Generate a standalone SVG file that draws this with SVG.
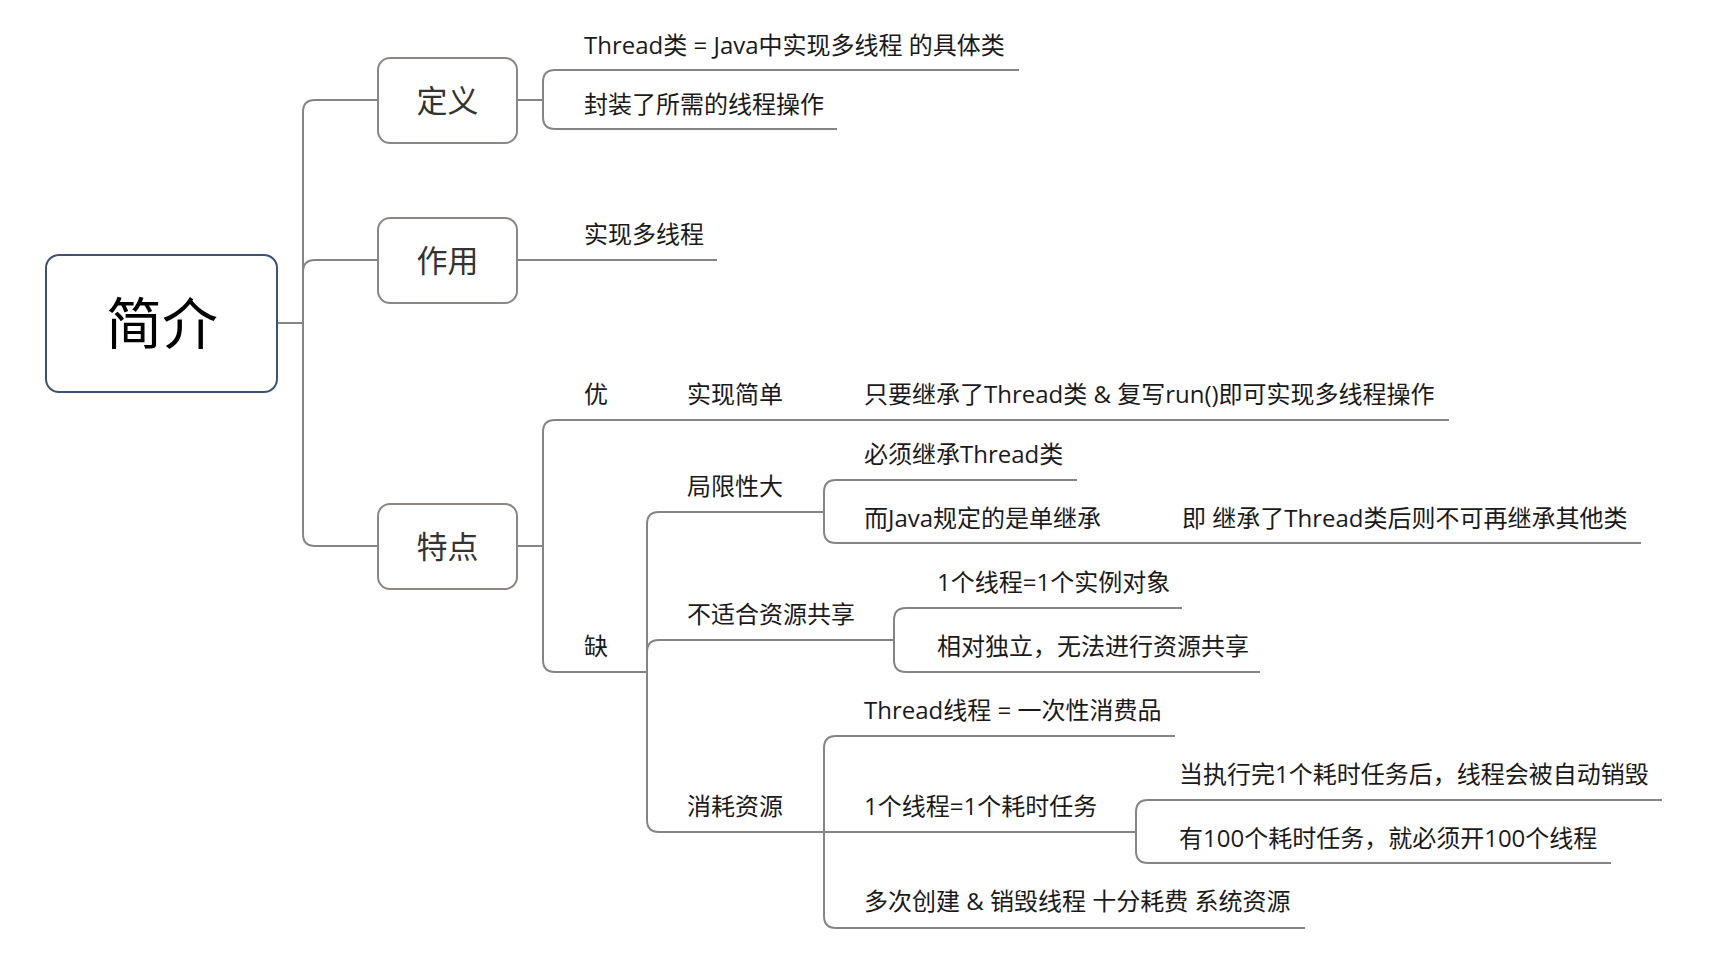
<svg xmlns="http://www.w3.org/2000/svg" width="1723" height="959" viewBox="0 0 1723 959">
<style>
.c{fill:none;stroke:#858585;stroke-width:2}
.box{fill:#fff;stroke:#8c8782;stroke-width:2}
.root{fill:#fff;stroke:#3f5078;stroke-width:2}
.nt{font-family:"Open Sans","Noto Sans CJK SC",sans-serif;font-size:31px;fill:#333;text-anchor:middle}
.rt{font-family:"Noto Sans CJK SC",sans-serif;font-size:56px;fill:#000;text-anchor:middle}
.t{font-family:"Open Sans","Noto Sans CJK SC",sans-serif;font-size:24px;fill:#1a1a1a}
</style>
<rect width="1723" height="959" fill="#fff"/>
<g id="connectors">
<path class="c" d="M277,323 H303"/>
<path class="c" d="M378,100 H315 Q303,100 303,112 V534 Q303,546 315,546 H378"/>
<path class="c" d="M303,272 Q303,260 315,260 H378"/>
<path class="c" d="M517,100 H543"/>
<path class="c" d="M1019,70 H555 Q543,70 543,82 V117 Q543,129 555,129 H837"/>
<path class="c" d="M517,260 H717"/>
<path class="c" d="M517,546 H543"/>
<path class="c" d="M1449,420 H555 Q543,420 543,432 V660 Q543,672 555,672 H647"/>
<path class="c" d="M824,512 H659 Q647,512 647,524 V820 Q647,832 659,832 H1136"/>
<path class="c" d="M647,652 Q647,640 659,640 H894"/>
<path class="c" d="M1077,480 H836 Q824,480 824,492 V531 Q824,543 836,543 H1641"/>
<path class="c" d="M1182,608 H906 Q894,608 894,620 V660 Q894,672 906,672 H1260"/>
<path class="c" d="M1175,736 H836 Q824,736 824,748 V916 Q824,928 836,928 H1305"/>
<path class="c" d="M1662,800 H1148 Q1136,800 1136,812 V851 Q1136,863 1148,863 H1611"/>
</g>
<g id="root">
<rect class="root" x="46" y="255" width="231" height="137" rx="13"/>
<text class="rt" x="162" y="344">简介</text>
</g>
<g id="n-dingyi">
<rect class="box" x="378" y="58" width="139" height="85" rx="12"/>
<text class="nt" x="447.5" y="112">定义</text>
</g>
<g id="n-zuoyong">
<rect class="box" x="378" y="218" width="139" height="85" rx="12"/>
<text class="nt" x="447.5" y="272">作用</text>
</g>
<g id="n-tedian">
<rect class="box" x="378" y="504" width="139" height="85" rx="12"/>
<text class="nt" x="447.5" y="558">特点</text>
</g>
<g id="leaf-def1"><text class="t" x="584" y="54">Thread类 = Java中实现多线程 的具体类</text></g>
<g id="leaf-def2"><text class="t" x="584" y="113">封装了所需的线程操作</text></g>
<g id="leaf-use"><text class="t" x="584" y="243">实现多线程</text></g>
<g id="n-you"><text class="t" x="584" y="403">优</text></g>
<g id="n-simple"><text class="t" x="687" y="403">实现简单</text></g>
<g id="leaf-simple"><text class="t" x="864" y="403">只要继承了Thread类 &amp; 复写run()即可实现多线程操作</text></g>
<g id="n-que"><text class="t" x="584" y="655">缺</text></g>
<g id="n-limit"><text class="t" x="687" y="495">局限性大</text></g>
<g id="leaf-limit1"><text class="t" x="864" y="463">必须继承Thread类</text></g>
<g id="n-limit2"><text class="t" x="864" y="527">而Java规定的是单继承</text></g>
<g id="leaf-limit2"><text class="t" x="1182" y="527">即 继承了Thread类后则不可再继承其他类</text></g>
<g id="n-share"><text class="t" x="687" y="623">不适合资源共享</text></g>
<g id="leaf-share1"><text class="t" x="937" y="591">1个线程=1个实例对象</text></g>
<g id="leaf-share2"><text class="t" x="937" y="655">相对独立，无法进行资源共享</text></g>
<g id="n-consume"><text class="t" x="687" y="815">消耗资源</text></g>
<g id="leaf-consume1"><text class="t" x="864" y="719">Thread线程 = 一次性消费品</text></g>
<g id="n-consume2"><text class="t" x="864" y="815">1个线程=1个耗时任务</text></g>
<g id="leaf-consume2a"><text class="t" x="1179" y="783">当执行完1个耗时任务后，线程会被自动销毁</text></g>
<g id="leaf-consume2b"><text class="t" x="1179" y="847">有100个耗时任务，就必须开100个线程</text></g>
<g id="leaf-consume3"><text class="t" x="864" y="910">多次创建 &amp; 销毁线程 十分耗费 系统资源</text></g>
</svg>
